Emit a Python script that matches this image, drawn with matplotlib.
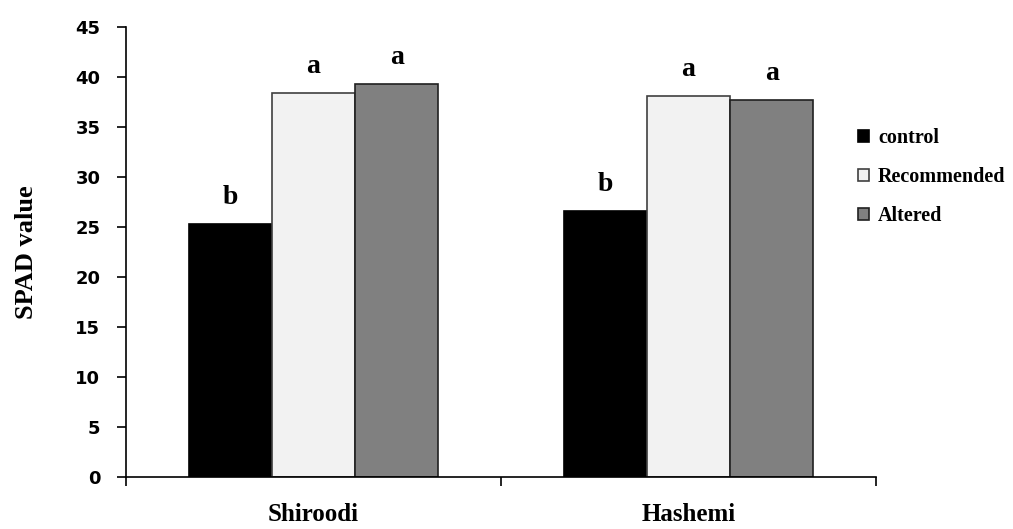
import numpy as np
import matplotlib.pyplot as plt

cultivars = ["Shiroodi", "Hashemi"]
treatments = ["control", "Recommended", "Altered"]
spad = {
    "control": [25.3, 26.6],
    "Recommended": [38.4, 38.1],
    "Altered": [39.3, 37.7],
}
letters = {
    "control": ["b", "b"],
    "Recommended": ["a", "a"],
    "Altered": ["a", "a"],
}
colors = {"control": "#000000", "Recommended": "#f2f2f2", "Altered": "#808080"}
edges = {"control": "#000000", "Recommended": "#404040", "Altered": "#202020"}

fig = plt.figure(figsize=(10.13, 5.29), dpi=100)
ax = fig.add_axes([0.1244, 0.0983, 0.7404, 0.8507])

x = np.arange(len(cultivars))
w = 0.222
serif = "Liberation Serif"
for i, t in enumerate(treatments):
    xs = x + (i - 1) * w
    ax.bar(xs, spad[t], width=w, color=colors[t], edgecolor=edges[t],
           linewidth=1.2, label=t)
    for xi, v, s in zip(xs, spad[t], letters[t]):
        ax.text(xi, v + 1.4, s, ha="center", va="bottom", fontsize=20,
                fontweight="bold", family=serif)

ax.set_xlim(-0.5, 1.5)
ax.set_ylim(0, 45)
ax.set_yticks(range(0, 46, 5))
ax.set_xticks([-0.5, 0.5, 1.5])
ax.set_xticklabels([])
ax.tick_params(axis="y", direction="out", length=6.5, width=1.2, labelsize=13, pad=12)
ax.tick_params(axis="x", direction="out", length=6.5, width=1.2)
for lab in ax.get_yticklabels():
    lab.set_fontweight("bold")
    lab.set_family("DejaVu Sans")
for i, c in enumerate(cultivars):
    ax.text(x[i], -3.7, c, ha="center", va="center", fontsize=18,
            fontweight="bold", family=serif)
ax.spines["top"].set_visible(False)
ax.spines["right"].set_visible(False)
ax.spines["left"].set_linewidth(1.2)
ax.spines["bottom"].set_linewidth(1.2)
ax.set_ylabel("SPAD value", fontsize=19, fontweight="bold", family=serif)
ax.yaxis.set_label_coords(-0.117, 0.5)

leg = fig.legend(loc="center left", bbox_to_anchor=(0.837, 0.665), frameon=False,
                 borderpad=0, handlelength=0.55, handleheight=0.55, handletextpad=0.45,
                 labelspacing=0.95, prop={"family": serif, "weight": "bold", "size": 14.5})

fig.savefig("out.png", dpi=100)
